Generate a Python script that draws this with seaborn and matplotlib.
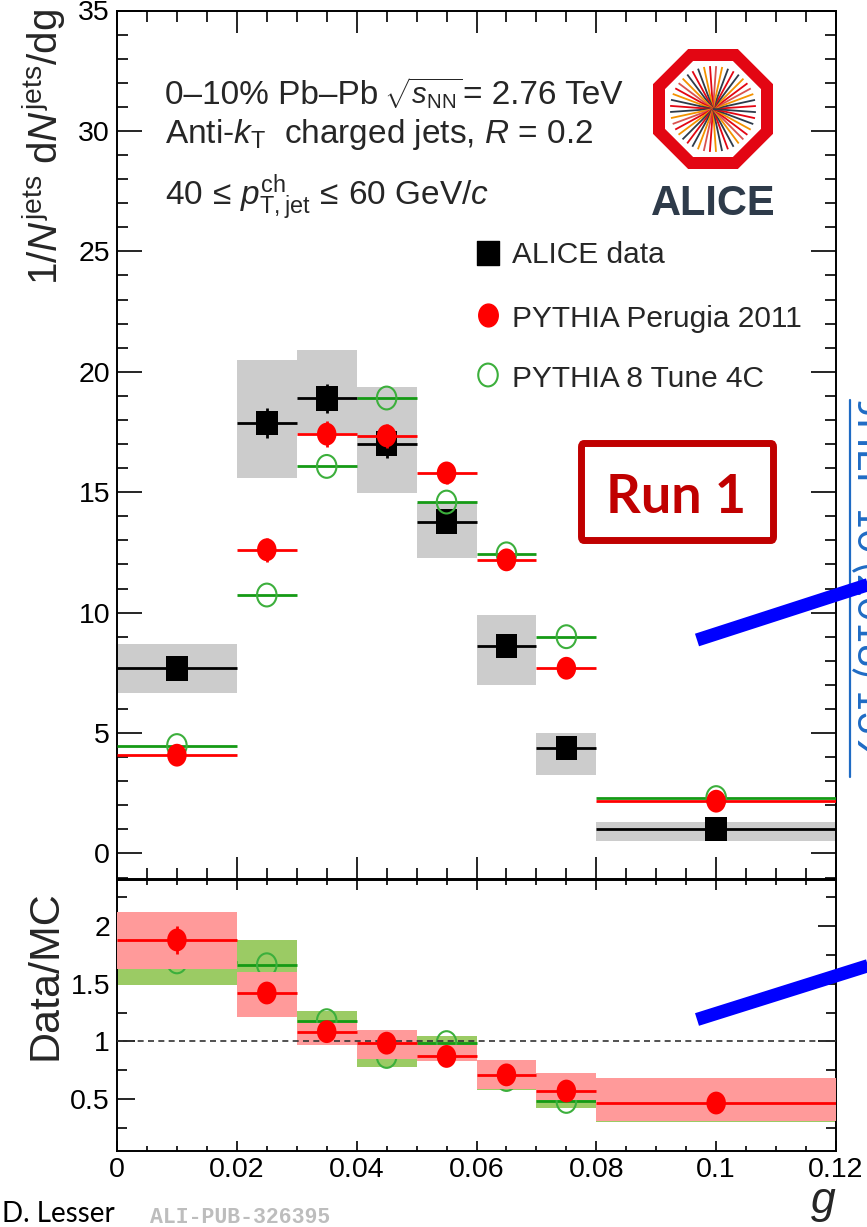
import numpy as np
import pandas as pd
import matplotlib
matplotlib.use("Agg")
import matplotlib.pyplot as plt
import seaborn as sns
from matplotlib.path import Path
from matplotlib.ticker import MultipleLocator, FuncFormatter
from matplotlib.patches import RegularPolygon, FancyBboxPatch
from matplotlib.lines import Line2D

# ---------------- data ----------------
bin_lo = [0.00, 0.02, 0.03, 0.04, 0.05, 0.06, 0.07, 0.08]
bin_hi = [0.02, 0.03, 0.04, 0.05, 0.06, 0.07, 0.08, 0.12]

alice_val = [7.68, 17.87, 18.89, 17.02, 13.78, 8.60, 4.39, 1.00]
alice_stat = [0.30, 0.62, 0.62, 0.60, 0.35, 0.30, 0.25, 0.20]
alice_sys_lo = [6.67, 15.59, 17.45, 14.97, 12.27, 6.98, 3.24, 0.51]
alice_sys_hi = [8.68, 20.50, 20.91, 19.37, 14.54, 9.88, 5.01, 1.32]

perugia_val = [4.08, 12.61, 17.41, 17.34, 15.80, 12.19, 7.69, 2.17]
perugia_stat = [0.20, 0.50, 0.55, 0.50, 0.45, 0.40, 0.30, 0.15]
tune4c_val = [4.48, 10.73, 16.07, 18.91, 14.59, 12.44, 9.00, 2.32]

ratio_perugia = [1.88, 1.42, 1.085, 0.985, 0.87, 0.71, 0.57, 0.466]
ratio_perugia_stat = [0.12, 0.03, 0.03, 0.03, 0.03, 0.03, 0.03, 0.03]
ratio_perugia_lo = [1.63, 1.21, 0.965, 0.85, 0.83, 0.59, 0.49, 0.31]
ratio_perugia_hi = [2.12, 1.60, 1.16, 1.10, 0.97, 0.84, 0.73, 0.68]

ratio_tune4c = [1.69, 1.665, 1.18, 0.87, 0.99, 0.67, 0.48, 0.47]
ratio_tune4c_lo = [1.49, 1.45, 1.10, 0.775, 0.93, 0.58, 0.42, 0.30]
ratio_tune4c_hi = [1.87, 1.88, 1.26, 0.97, 1.05, 0.76, 0.55, 0.65]

legend_labels = ["ALICE data", "PYTHIA Perugia 2011", "PYTHIA 8 Tune 4C"]

centers = [(a + b) / 2 for a, b in zip(bin_lo, bin_hi)]
half_w = [(b - a) / 2 for a, b in zip(bin_lo, bin_hi)]
widths = [b - a for a, b in zip(bin_lo, bin_hi)]

top_df = pd.DataFrame({"g": centers, "alice": alice_val,
                       "perugia": perugia_val, "tune4c": tune4c_val})
rat_df = pd.DataFrame({"g": centers, "perugia": ratio_perugia,
                       "tune4c": ratio_tune4c})

# ---------------- style ----------------
sns.set_theme(style="ticks")
plt.rcParams["font.family"] = ["Liberation Sans", "DejaVu Sans"]
plt.rcParams["mathtext.fontset"] = "custom"
plt.rcParams["mathtext.rm"] = "Liberation Sans"
plt.rcParams["mathtext.it"] = "Liberation Sans:italic"
plt.rcParams["mathtext.bf"] = "Liberation Sans:bold"
plt.rcParams["mathtext.sf"] = "Liberation Sans"
plt.rcParams["axes.linewidth"] = 1.4
plt.rcParams["axes.edgecolor"] = "black"
plt.rcParams["xtick.color"] = "black"
plt.rcParams["ytick.color"] = "black"

RED = "#FF0000"
GREEN_LINE = "#159A15"
GREEN_MK = "#3CAF3C"
GRAY = "#CCCCCC"
RED_BAND = "#FF9A9A"
GREEN_BAND = "#9BCB64"

# slightly tall marker shapes
_c = Path.unit_circle()
ELL = Path(_c.vertices * np.array([1.0, 1.17]), _c.codes)
SQR = Path([(-1, -1.12), (1, -1.12), (1, 1.12), (-1, 1.12), (-1, -1.12)],
           [Path.MOVETO, Path.LINETO, Path.LINETO, Path.LINETO, Path.CLOSEPOLY])

W, H = 867, 1227
fig = plt.figure(figsize=(W / 100, H / 100), dpi=100)
fig.patch.set_facecolor("white")


def fx(px):
    return px / W


def fy(py):
    return 1 - py / H


ax = fig.add_axes([fx(117), fy(878.5), fx(836) - fx(117), fy(10.5) - fy(878.5)])
axr = fig.add_axes([fx(117), fy(1151), fx(836) - fx(117), fy(880) - fy(1151)])


def ax_x(px):
    return (px - 117) / 719


def ax_y(py):
    return (878.5 - py) / 868


# ---------------- upper panel: distributions ----------------
ax.bar(centers, np.subtract(alice_sys_hi, alice_sys_lo), bottom=alice_sys_lo,
       width=widths, color=GRAY, linewidth=0, zorder=1)
ax.errorbar(centers, alice_val, xerr=half_w, yerr=alice_stat, fmt="none",
            ecolor="black", elinewidth=2.0, capsize=0, zorder=3)
sns.scatterplot(data=top_df, x="g", y="alice", marker=SQR, s=305, color="black",
                edgecolor="none", linewidth=0, ax=ax, zorder=4, legend=False)

ax.errorbar(centers, tune4c_val, xerr=half_w, fmt="none",
            ecolor=GREEN_LINE, elinewidth=2.0, capsize=0, zorder=5)
sns.scatterplot(data=top_df, x="g", y="tune4c", marker=ELL, s=270, color=GREEN_MK,
                facecolor="none", edgecolor=GREEN_MK, linewidth=1.5, ax=ax,
                zorder=6, legend=False)

ax.errorbar(centers, perugia_val, xerr=half_w, yerr=perugia_stat, fmt="none",
            ecolor=RED, elinewidth=2.0, capsize=0, zorder=7)
sns.scatterplot(data=top_df, x="g", y="perugia", marker=ELL, s=270, color=RED,
                edgecolor="none", linewidth=0, ax=ax, zorder=8, legend=False)

ax.set_xlim(0, 0.12)
ax.set_ylim(-1.04, 35)
ax.xaxis.set_major_locator(MultipleLocator(0.02))
ax.xaxis.set_minor_locator(MultipleLocator(0.005))
ax.yaxis.set_major_locator(MultipleLocator(5))
ax.yaxis.set_minor_locator(MultipleLocator(1))
ax.yaxis.set_major_formatter(FuncFormatter(lambda v, p: f"{v:g}"))
ax.tick_params(which="both", direction="in", top=True, right=True,
               labelbottom=False, labelsize=20.5, width=1.2)
ax.tick_params(axis="x", which="major", length=16)
ax.tick_params(axis="x", which="minor", length=8)
ax.tick_params(axis="y", which="major", length=18, pad=5)
ax.tick_params(axis="y", which="minor", length=8)
ax.set_xlabel("")
ax.set_ylabel("")

# header text
ax.text(ax_x(165), ax_y(104), "0–10% Pb–Pb",
        transform=ax.transAxes, fontsize=24, va="baseline", ha="left")
ax.text(ax_x(384), ax_y(104), r"$\sqrt{s_{\mathrm{NN}}}$",
        transform=ax.transAxes, fontsize=21, va="baseline", ha="left")
ax.text(ax_x(463), ax_y(104), "= 2.76 TeV",
        transform=ax.transAxes, fontsize=24, va="baseline", ha="left")
ax.text(ax_x(165), ax_y(143), r"Anti-$k_{\mathrm{T}}$  charged jets, $R$ = 0.2",
        transform=ax.transAxes, fontsize=24, va="baseline", ha="left")
ax.text(ax_x(165), ax_y(205),
        r"40$\,\leq\,p_{\mathrm{T,jet}}^{\mathrm{ch}}\,\leq\,$60 GeV/$c$",
        transform=ax.transAxes, fontsize=24, va="baseline", ha="left")

# legend
leg_y = [ax_y(253), ax_y(315), ax_y(375)]
leg_base = [ax_y(263), ax_y(327), ax_y(387)]
lx = ax_x(488)
tx = ax_x(512)
ax.scatter([lx], [leg_y[0]], marker=SQR, s=305, color="black",
           transform=ax.transAxes, zorder=9, clip_on=False)
ax.scatter([lx], [leg_y[1]], marker=ELL, s=270, color=RED,
           transform=ax.transAxes, zorder=9, clip_on=False)
ax.scatter([lx], [leg_y[2]], marker=ELL, s=270, facecolor="none",
           edgecolor=GREEN_MK, linewidth=1.5, transform=ax.transAxes,
           zorder=9, clip_on=False)
for lab, yb in zip(legend_labels, leg_base):
    ax.text(tx, yb, lab, transform=ax.transAxes, fontsize=21.5,
            va="baseline", ha="left")

# ---------------- lower panel: Data/MC ----------------
axr.bar(centers, np.subtract(ratio_tune4c_hi, ratio_tune4c_lo),
        bottom=ratio_tune4c_lo, width=widths, color=GREEN_BAND, linewidth=0,
        zorder=1)
axr.errorbar(centers, ratio_tune4c, xerr=half_w, fmt="none",
             ecolor=GREEN_LINE, elinewidth=2.0, capsize=0, zorder=2)
sns.scatterplot(data=rat_df, x="g", y="tune4c", marker=ELL, s=270,
                color=GREEN_MK, facecolor="none", edgecolor=GREEN_MK,
                linewidth=1.5, ax=axr, zorder=3, legend=False)
axr.bar(centers, np.subtract(ratio_perugia_hi, ratio_perugia_lo),
        bottom=ratio_perugia_lo, width=widths, color=RED_BAND, linewidth=0,
        zorder=4)
axr.axhline(1.0, color="#333333", lw=1.2, ls=(0, (3.6, 2.6)), zorder=4.5)
axr.errorbar(centers, ratio_perugia, xerr=half_w, yerr=ratio_perugia_stat,
             fmt="none", ecolor=RED, elinewidth=2.0, capsize=0, zorder=5)
sns.scatterplot(data=rat_df, x="g", y="perugia", marker=ELL, s=270, color=RED,
                edgecolor="none", linewidth=0, ax=axr, zorder=6, legend=False)

axr.set_xlim(0, 0.12)
axr.set_ylim(0.05, 2.4)
axr.xaxis.set_major_locator(MultipleLocator(0.02))
axr.xaxis.set_minor_locator(MultipleLocator(0.005))
axr.yaxis.set_major_locator(MultipleLocator(0.5))
axr.yaxis.set_minor_locator(MultipleLocator(0.25))
fmt = FuncFormatter(lambda v, p: f"{v:g}")
axr.xaxis.set_major_formatter(fmt)
axr.yaxis.set_major_formatter(fmt)
axr.tick_params(which="both", direction="in", top=True, right=True,
                labelsize=20.5, width=1.2)
axr.tick_params(axis="x", which="major", length=7, pad=4)
axr.tick_params(axis="x", which="minor", length=3.6)
axr.tick_params(axis="y", which="major", length=13, pad=5)
axr.tick_params(axis="y", which="minor", length=7)
axr.set_xlabel("")
axr.set_ylabel("")

# axis titles
fig.text(fx(58), fy(9), r"1/$N^{\mathrm{jets}}$ d$N^{\mathrm{jets}}$/dg",
         rotation=90, rotation_mode="anchor", ha="right", va="baseline",
         fontsize=29)
fig.text(fx(57), fy(1060), "Data/MC", rotation=90, rotation_mode="anchor",
         ha="left", va="baseline", fontsize=31)
fig.text(fx(836), fy(1213), "g", style="italic", ha="right", va="baseline",
         fontsize=32)

# ---------------- ALICE logo ----------------
lax = fig.add_axes([fx(713 - 65), fy(109 + 65), 130 / W, 130 / H])
lax.set_xlim(-65, 65)
lax.set_ylim(-65, 65)
lax.set_aspect("equal")
lax.axis("off")
lax.add_patch(RegularPolygon((0, 0), 8, radius=60 / np.cos(np.pi / 8),
                             orientation=np.pi / 8, facecolor="#E30613",
                             edgecolor="none"))
lax.add_patch(RegularPolygon((0, 0), 8, radius=48 / np.cos(np.pi / 8),
                             orientation=np.pi / 8, facecolor="white",
                             edgecolor="none"))
ray_colors = ["#E30613", "#2E3B4A", "#F39200", "#D9534F", "#E30613",
              "#F39200", "#2E3B4A"]
for k in range(44):
    a = np.deg2rad(k * (360 / 44) + 4)
    lax.plot([0, 43 * np.cos(a)], [0, 43 * np.sin(a)],
             color=ray_colors[k % len(ray_colors)], lw=1.3,
             solid_capstyle="butt")
fig.text(fx(713), fy(215), "ALICE", ha="center", va="baseline", fontsize=30,
         weight="bold", family=["Liberation Sans", "DejaVu Sans"],
         color="#2E3B4A")

# ---------------- slide overlays ----------------
box = FancyBboxPatch((fx(581.5), fy(540.5)), fx(773.5) - fx(581.5),
                     fy(443.5) - fy(540.5),
                     boxstyle="round,pad=0,rounding_size=0.003",
                     transform=fig.transFigure, facecolor="none",
                     edgecolor="#C00000", linewidth=5, zorder=10)
fig.add_artist(box)
fig.text(fx(676), fy(513), "Run 1", ha="center", va="baseline", fontsize=39,
         weight="bold", family=["Lato", "DejaVu Sans"], color="#C00000")

fig.add_artist(Line2D([fx(697), fx(890)], [fy(640), fy(640 - 0.3235 * 193)],
                      transform=fig.transFigure, color="#0000FF", lw=9.5,
                      solid_capstyle="butt", zorder=11))
fig.add_artist(Line2D([fx(697), fx(890)], [fy(1019.5), fy(1019.5 - 0.3147 * 193)],
                      transform=fig.transFigure, color="#0000FF", lw=9.5,
                      solid_capstyle="butt", zorder=11))

fig.text(fx(857), fy(400), "JHEP 10 (2018) 139", rotation=-90,
         rotation_mode="anchor", ha="left", va="baseline", fontsize=29,
         family=["Lato", "DejaVu Sans"], color="#1F6BC4")
fig.add_artist(Line2D([fx(850), fx(850)], [fy(400), fy(777)],
                      transform=fig.transFigure, color="#1F6BC4", lw=1.6))

fig.text(fx(2), fy(1222), "D. Lesser", ha="left", va="baseline", fontsize=20,
         family=["Lato", "DejaVu Sans"], color="black")
fig.text(fx(150), fy(1223), "ALI-PUB-326395", ha="left", va="baseline",
         fontsize=15.5, weight="bold", family=["Liberation Mono", "DejaVu Sans Mono"],
         color="#BDBDBD")

fig.savefig("out.png", dpi=100)
